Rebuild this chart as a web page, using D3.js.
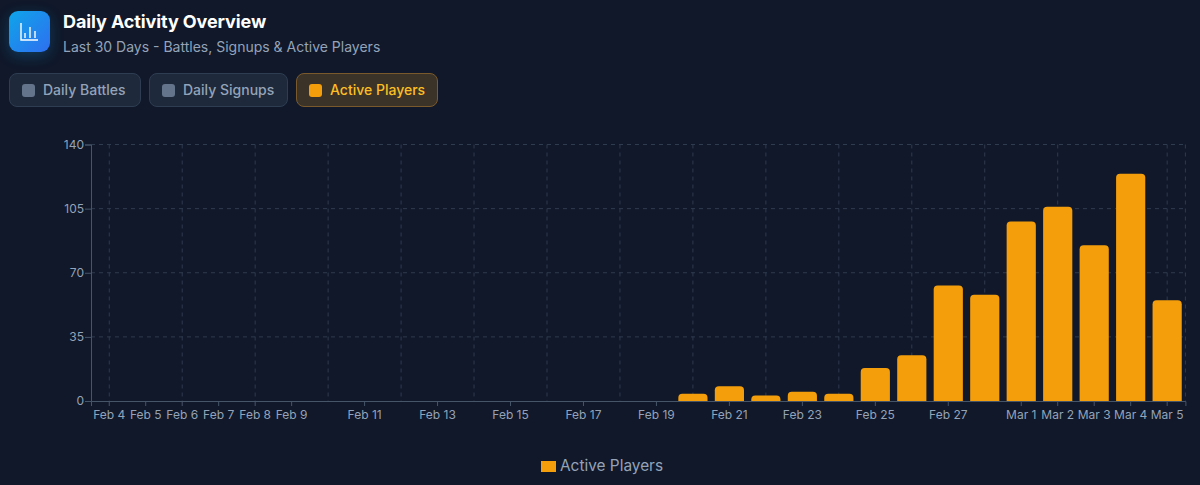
<!DOCTYPE html>
<html><head><meta charset="utf-8">
<style>
html,body{margin:0;padding:0;background:#10182a;}
body{width:1200px;height:485px;overflow:hidden;position:relative;font-family:Inter,sans-serif;}
svg{position:absolute;left:0;top:0;}
.ic{position:absolute;left:9px;top:11px;width:41px;height:41px;border-radius:9px;background:linear-gradient(135deg,#0ea5e9,#2f6ff0);box-shadow:0 4px 14px rgba(14,165,233,.25);}
.t{position:absolute;left:63px;top:10px;font-size:18px;font-weight:700;color:#fff;line-height:24px;letter-spacing:-.1px;}
.s{position:absolute;left:63px;top:37px;font-size:14px;color:#94a3b8;line-height:20px;}
.b{position:absolute;top:73px;height:34px;box-sizing:border-box;border-radius:8px;border:1px solid #2f3d52;background:#1e293b;color:#94a3b8;font-size:14px;font-weight:500;line-height:32px;}
.b i{position:absolute;left:12px;top:10px;width:13px;height:13px;border-radius:3px;background:#64748b;}
.b span{position:absolute;left:33px;white-space:nowrap;}
.b.on{background:#3c3328;border-color:#7a5a2c;color:#fbbf24;}
.b.on i{background:#f59e0b;}
</style></head><body>
<div class="ic"><svg width="41" height="41" viewBox="0 0 41 41" style="position:static" fill="none" stroke="#fff" stroke-width="1.4"><path d="M12 12V29H29"/><path d="M16 27V22M21 27V16M26 27V20"/></svg></div>
<div class="t" id="title"></div><div class="s" id="sub"></div>
<div id="btns"></div>
<svg id="c" width="1200" height="485"></svg>
<script src="https://cdn.jsdelivr.net/npm/d3@7/dist/d3.min.js"></script>
<script>
const titleText="Daily Activity Overview";
const subtitleText="Last 30 Days - Battles, Signups & Active Players";
const buttonLabels=["Daily Battles","Daily Signups","Active Players"];
const categories=["Feb 4","Feb 5","Feb 6","Feb 7","Feb 8","Feb 9","Feb 10","Feb 11","Feb 12","Feb 13","Feb 14","Feb 15","Feb 16","Feb 17","Feb 18","Feb 19","Feb 20","Feb 21","Feb 22","Feb 23","Feb 24","Feb 25","Feb 26","Feb 27","Feb 28","Mar 1","Mar 2","Mar 3","Mar 4","Mar 5"];
const activePlayers=[0,0,0,0,0,0,0,0,0,0,0,0,0,0,0,0,4,8,3,5,4,18,25,63,58,98,106,85,124,55];
const xLabels=["Feb 4","Feb 5","Feb 6","Feb 7","Feb 8","Feb 9","Feb 11","Feb 13","Feb 15","Feb 17","Feb 19","Feb 21","Feb 23","Feb 25","Feb 27","Mar 1","Mar 2","Mar 3","Mar 4","Mar 5"];
const xGrid=["Feb 4","Feb 6","Feb 8","Feb 10","Feb 12","Feb 14","Feb 16","Feb 18","Feb 20","Feb 22","Feb 24","Feb 26","Feb 28","Mar 2","Mar 5"];
const yTicks=[0,35,70,105,140];
const seriesName="Active Players";

d3.select("#title").text(titleText);
d3.select("#sub").text(subtitleText);
const btnLeft=[9,149,296],btnW=[132,139,142];
d3.select("#btns").selectAll("div").data(buttonLabels).join("div")
 .attr("class",(d,i)=>i==2?"b on":"b")
 .style("left",(d,i)=>btnLeft[i]+"px").style("width",(d,i)=>btnW[i]+"px")
 .html(d=>"<i></i><span>"+d+"</span>");

const L=91,R=1185.4,T=144.5,B=401;
const x=d3.scaleBand().domain(categories).range([L,R]).paddingInner(0.2).paddingOuter(0.1);
const y=d3.scaleLinear().domain([0,140]).range([B,T]);
const cx=d=>x(d)+x.bandwidth()/2;
const svg=d3.select("#c");
const grid=svg.append("g").attr("stroke","#2f3b4f").attr("stroke-dasharray","4 4").attr("stroke-width",1);
grid.selectAll(".h").data(yTicks.slice(1)).join("line").attr("x1",L).attr("x2",R).attr("y1",y).attr("y2",y);
grid.selectAll(".v").data(xGrid).join("line").attr("x1",cx).attr("x2",cx).attr("y1",T).attr("y2",B);
grid.append("line").attr("x1",R).attr("x2",R).attr("y1",T).attr("y2",B);

const rr=(d)=>{const x0=x(d.c),w=x.bandwidth(),y0=y(d.v),r=Math.min(4,B-y0);
 return `M${x0},${B}V${y0+r}Q${x0},${y0} ${x0+r},${y0}H${x0+w-r}Q${x0+w},${y0} ${x0+w},${y0+r}V${B}Z`;};
svg.append("g").selectAll("path").data(categories.map((c,i)=>({c,v:activePlayers[i]})).filter(d=>d.v>0)).join("path").attr("d",rr).attr("fill","#f59e0b");

const ax=svg.append("g").attr("transform",`translate(0,${B})`).call(d3.axisBottom(x).tickValues(xLabels).tickSize(5).tickPadding(4));
const ay=svg.append("g").attr("transform",`translate(${L},0)`).call(d3.axisLeft(y).tickValues(yTicks).tickSize(6).tickPadding(1));
[ax,ay].forEach(a=>{a.select(".domain").attr("stroke","#475569").attr("stroke-width",1);
 a.selectAll(".tick line").attr("stroke","#475569");
 a.selectAll("text").attr("fill","#94a3b8").style("font-family","Inter,sans-serif").style("font-size","12px");});

const lg=svg.append("g");
lg.append("rect").attr("x",541).attr("y",461).attr("width",15).attr("height",11).attr("fill","#f59e0b");
lg.append("text").attr("x",560).attr("y",471).attr("fill","#94a3b8").style("font-family","Inter,sans-serif").style("font-size","15.4px").text(seriesName);
</script></body></html>
